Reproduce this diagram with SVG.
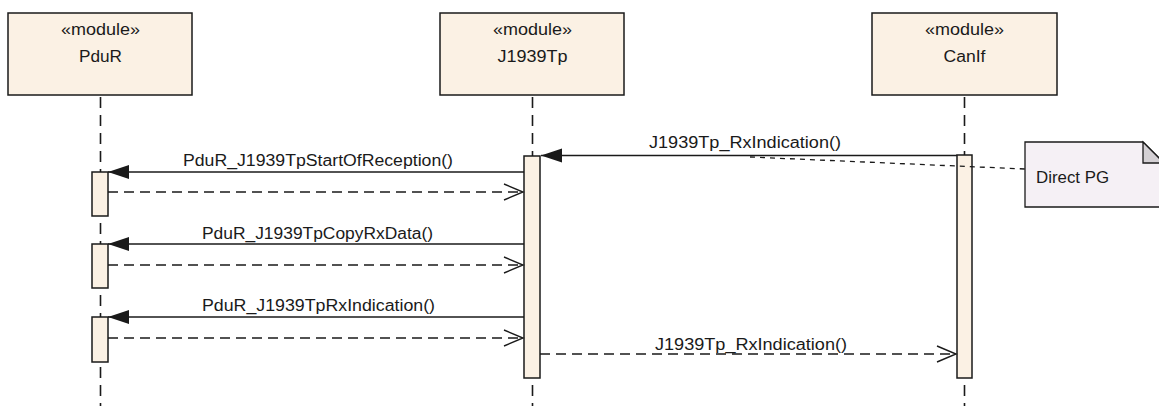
<svg xmlns="http://www.w3.org/2000/svg" width="1159" height="406" viewBox="0 0 1159 406">
  <defs>
    <style>
      .head { fill: #FBF1E4; stroke: #1a1a1a; stroke-width: 1.5; }
      .act { fill: #FBF1E4; stroke: #1a1a1a; stroke-width: 1.5; }
      .life { stroke: #1a1a1a; stroke-width: 1.6; stroke-dasharray: 11 7; fill: none; }
      .call { stroke: #1a1a1a; stroke-width: 1.3; fill: none; marker-end: url(#filled); }
      .ret { stroke: #1a1a1a; stroke-width: 1.3; fill: none; stroke-dasharray: 10 6; marker-end: url(#open); }
      .anchor { stroke: #1a1a1a; stroke-width: 1.3; fill: none; stroke-dasharray: 5 5; }
      .note { fill: #F5F0F5; stroke: #1a1a1a; stroke-width: 1.3; }
      .fold { fill: #D4D0D4; stroke: #1a1a1a; stroke-width: 1.3; }
      text { font-family: "Liberation Sans", Arial, sans-serif; font-size: 16px; fill: #1a1a1a; }
      .c { text-anchor: middle; }
    </style>
    <marker id="filled" viewBox="-22 -8 23 16" refX="0" refY="0" markerWidth="23" markerHeight="16" markerUnits="userSpaceOnUse" orient="auto">
      <path d="M0,0 L-21,-7 L-21,7 Z" fill="#1a1a1a"/>
    </marker>
    <marker id="open" viewBox="-21 -9 23 18" refX="0" refY="0" markerWidth="23" markerHeight="18" markerUnits="userSpaceOnUse" orient="auto">
      <path d="M-19,-8 L0,0 L-19,8" fill="none" stroke="#1a1a1a" stroke-width="1.4"/>
    </marker>
  </defs>

  <!-- lifelines -->
  <g id="lifelines">
    <line class="life" x1="100.5" y1="97" x2="100.5" y2="406"/>
    <line class="life" x1="532.5" y1="97" x2="532.5" y2="406"/>
    <line class="life" x1="964.5" y1="97" x2="964.5" y2="406"/>
  </g>

  <!-- participant heads -->
  <g id="PduR">
    <rect class="head" x="8" y="13" width="184" height="82"/>
    <text class="c" x="100.5" y="35" textLength="79" lengthAdjust="spacingAndGlyphs">«module»</text>
    <text class="c" x="100.5" y="62" textLength="43" lengthAdjust="spacingAndGlyphs">PduR</text>
  </g>
  <g id="J1939Tp">
    <rect class="head" x="440" y="13" width="184" height="82"/>
    <text class="c" x="532.5" y="35" textLength="79" lengthAdjust="spacingAndGlyphs">«module»</text>
    <text class="c" x="532.5" y="62" textLength="70" lengthAdjust="spacingAndGlyphs">J1939Tp</text>
  </g>
  <g id="CanIf">
    <rect class="head" x="872" y="13" width="185" height="82"/>
    <text class="c" x="964.5" y="35" textLength="79" lengthAdjust="spacingAndGlyphs">«module»</text>
    <text class="c" x="964.5" y="62" textLength="42" lengthAdjust="spacingAndGlyphs">CanIf</text>
  </g>

  <!-- activation bars -->
  <g id="activations">
    <rect class="act" x="524" y="156" width="16" height="222"/>
    <rect class="act" x="957" y="155" width="15" height="223"/>
    <rect class="act" x="92" y="172" width="16" height="44"/>
    <rect class="act" x="92" y="244" width="16" height="44"/>
    <rect class="act" x="92" y="317" width="16" height="45"/>
  </g>

  <!-- note -->
  <g id="note-direct-pg">
    <path class="note" d="M1025,142 L1143,142 L1164,163 L1164,207 L1025,207 Z"/>
    <path class="fold" d="M1143,142 L1143,163 L1164,163 Z"/>
    <text x="1036" y="183" textLength="73" lengthAdjust="spacingAndGlyphs">Direct PG</text>
  </g>

  <!-- messages -->
  <g id="connectors">
    <line class="call" x1="957" y1="155.5" x2="541" y2="155.5"/>
    <text class="c" x="745" y="148" textLength="192" lengthAdjust="spacingAndGlyphs">J1939Tp_RxIndication()</text>
    <line class="anchor" x1="750" y1="157" x2="1025" y2="169"/>

    <line class="call" x1="524" y1="172" x2="108" y2="172"/>
    <text class="c" x="318" y="166" textLength="270" lengthAdjust="spacingAndGlyphs">PduR_J1939TpStartOfReception()</text>
    <line class="ret" x1="108" y1="192" x2="523" y2="192"/>

    <line class="call" x1="524" y1="244" x2="108" y2="244"/>
    <text class="c" x="317.5" y="239" textLength="231" lengthAdjust="spacingAndGlyphs">PduR_J1939TpCopyRxData()</text>
    <line class="ret" x1="108" y1="265" x2="523" y2="265"/>

    <line class="call" x1="524" y1="317" x2="108" y2="317"/>
    <text class="c" x="318.5" y="311" textLength="233" lengthAdjust="spacingAndGlyphs">PduR_J1939TpRxIndication()</text>
    <line class="ret" x1="108" y1="338" x2="523" y2="338"/>

    <line class="ret" x1="540" y1="354" x2="956" y2="354"/>
    <text class="c" x="751" y="350" textLength="192" lengthAdjust="spacingAndGlyphs">J1939Tp_RxIndication()</text>
  </g>
</svg>
